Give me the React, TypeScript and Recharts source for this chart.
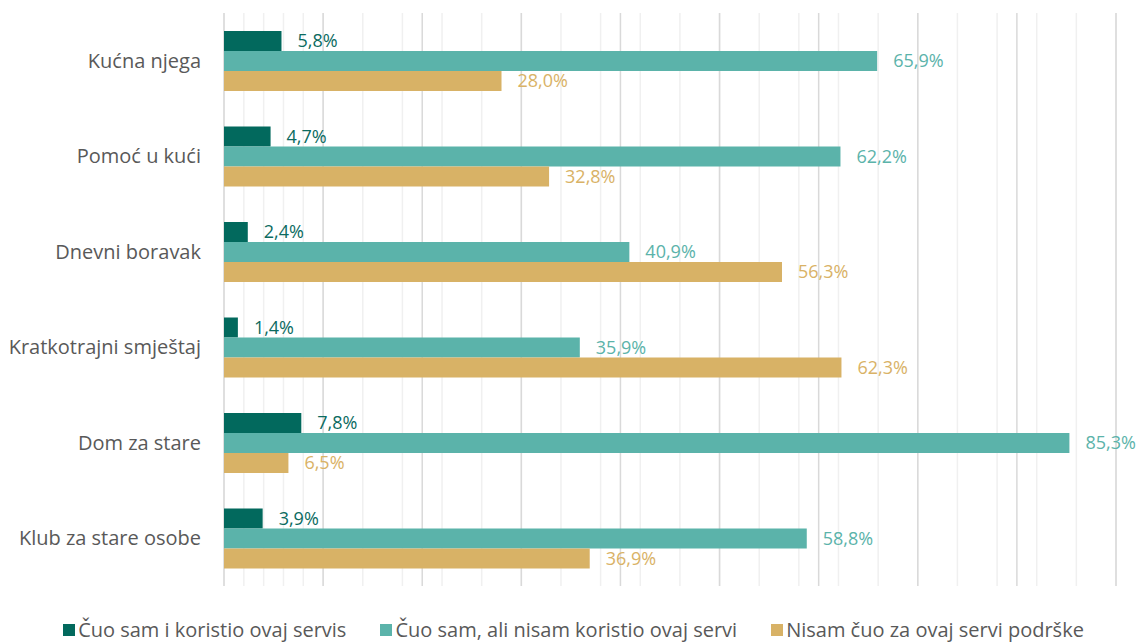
import React from 'react';
import { BarChart, Bar, XAxis, YAxis, CartesianGrid, Legend, LabelList } from 'recharts';

// kategorije servisa
const categories = ['Kućna njega', 'Pomoć u kući', 'Dnevni boravak', 'Kratkotrajni smještaj', 'Dom za stare', 'Klub za stare osobe'];

// vrijednosti u %
const heardAndUsed = [5.8, 4.7, 2.4, 1.4, 7.8, 3.9];
const heardNotUsed = [65.9, 62.2, 40.9, 35.9, 85.3, 58.8];
const notHeard = [28.0, 32.8, 56.3, 62.3, 6.5, 36.9];

const seriesNames = ['Čuo sam i koristio ovaj servis', 'Čuo sam, ali nisam koristio ovaj servi', 'Nisam čuo za ovaj servi podrške'];
const COLORS = ['#02695d', '#5bb3aa', '#d8b266'];
const LABEL_COLORS = ['#0b6b5f', '#5bb3aa', '#d9b266'];

const minorTicks = [0, 2, 4, 6, 8, 10, 12, 14, 16, 18, 20, 22, 24, 26, 28, 30, 32, 34, 36, 38, 40, 42, 44, 46, 48, 50, 52, 54, 56, 58, 60, 62, 64, 66, 68, 70, 72, 74, 76, 78, 80, 82, 84, 86, 88, 90];
const majorTicks = [0, 10, 20, 30, 40, 50, 60, 70, 80, 90];

const FONT = '"Open Sans", sans-serif';
const TEXT = '#595959';

const data = categories.map((name, i) => ({
  name,
  s0: heardAndUsed[i],
  s1: heardNotUsed[i],
  s2: notHeard[i],
}));

const fmt = (v: any) => `${Number(v).toFixed(1).replace('.', ',')}%`;

function LegendContent() {
  return (
    <div style={{ display: 'flex', justifyContent: 'center', fontFamily: FONT, fontSize: 20, color: TEXT, lineHeight: '24px', height: 24 }}>
      {seriesNames.map((n, i) => (
        <div key={n} style={{ display: 'flex', alignItems: 'center', marginRight: i < 2 ? 34 : 0 }}>
          <span style={{ width: 12, height: 12, background: COLORS[i], display: 'inline-block', marginRight: 3 }} />
          <span>{n}</span>
        </div>
      ))}
    </div>
  );
}

export default function App() {
  return (
    <div>
      <style>{`body{margin:0;background:#fff}`}</style>
      <BarChart
        width={1147}
        height={642}
        data={data}
        layout="vertical"
        margin={{ top: 13, right: 31, bottom: 32, left: 0 }}
        barSize={20}
        barGap={0}
      >
        <CartesianGrid horizontal={false} stroke="#f0f0f0" strokeWidth={1.5} />
        <CartesianGrid horizontal={false} verticalValues={majorTicks} stroke="#d9d9d9" strokeWidth={1.5} />
        <XAxis type="number" domain={[0, 90]} ticks={minorTicks} hide />
        <YAxis
          type="category"
          dataKey="name"
          width={224}
          axisLine={false}
          tickLine={false}
          tickSize={0}
          tickMargin={23}
          tick={{ fill: TEXT, fontSize: 20, fontFamily: FONT }}
        />
        {['s0', 's1', 's2'].map((k, i) => (
          <Bar key={k} dataKey={k} name={seriesNames[i]} fill={COLORS[i]} isAnimationActive={false}>
            <LabelList
              dataKey={k}
              position="right"
              offset={16}
              formatter={fmt}
              style={{ fill: LABEL_COLORS[i], fontSize: 18, fontFamily: FONT }}
            />
          </Bar>
        ))}
        <Legend verticalAlign="bottom" content={<LegendContent />} wrapperStyle={{ bottom: 0, left: 0, width: 1147 }} />
      </BarChart>
    </div>
  );
}
